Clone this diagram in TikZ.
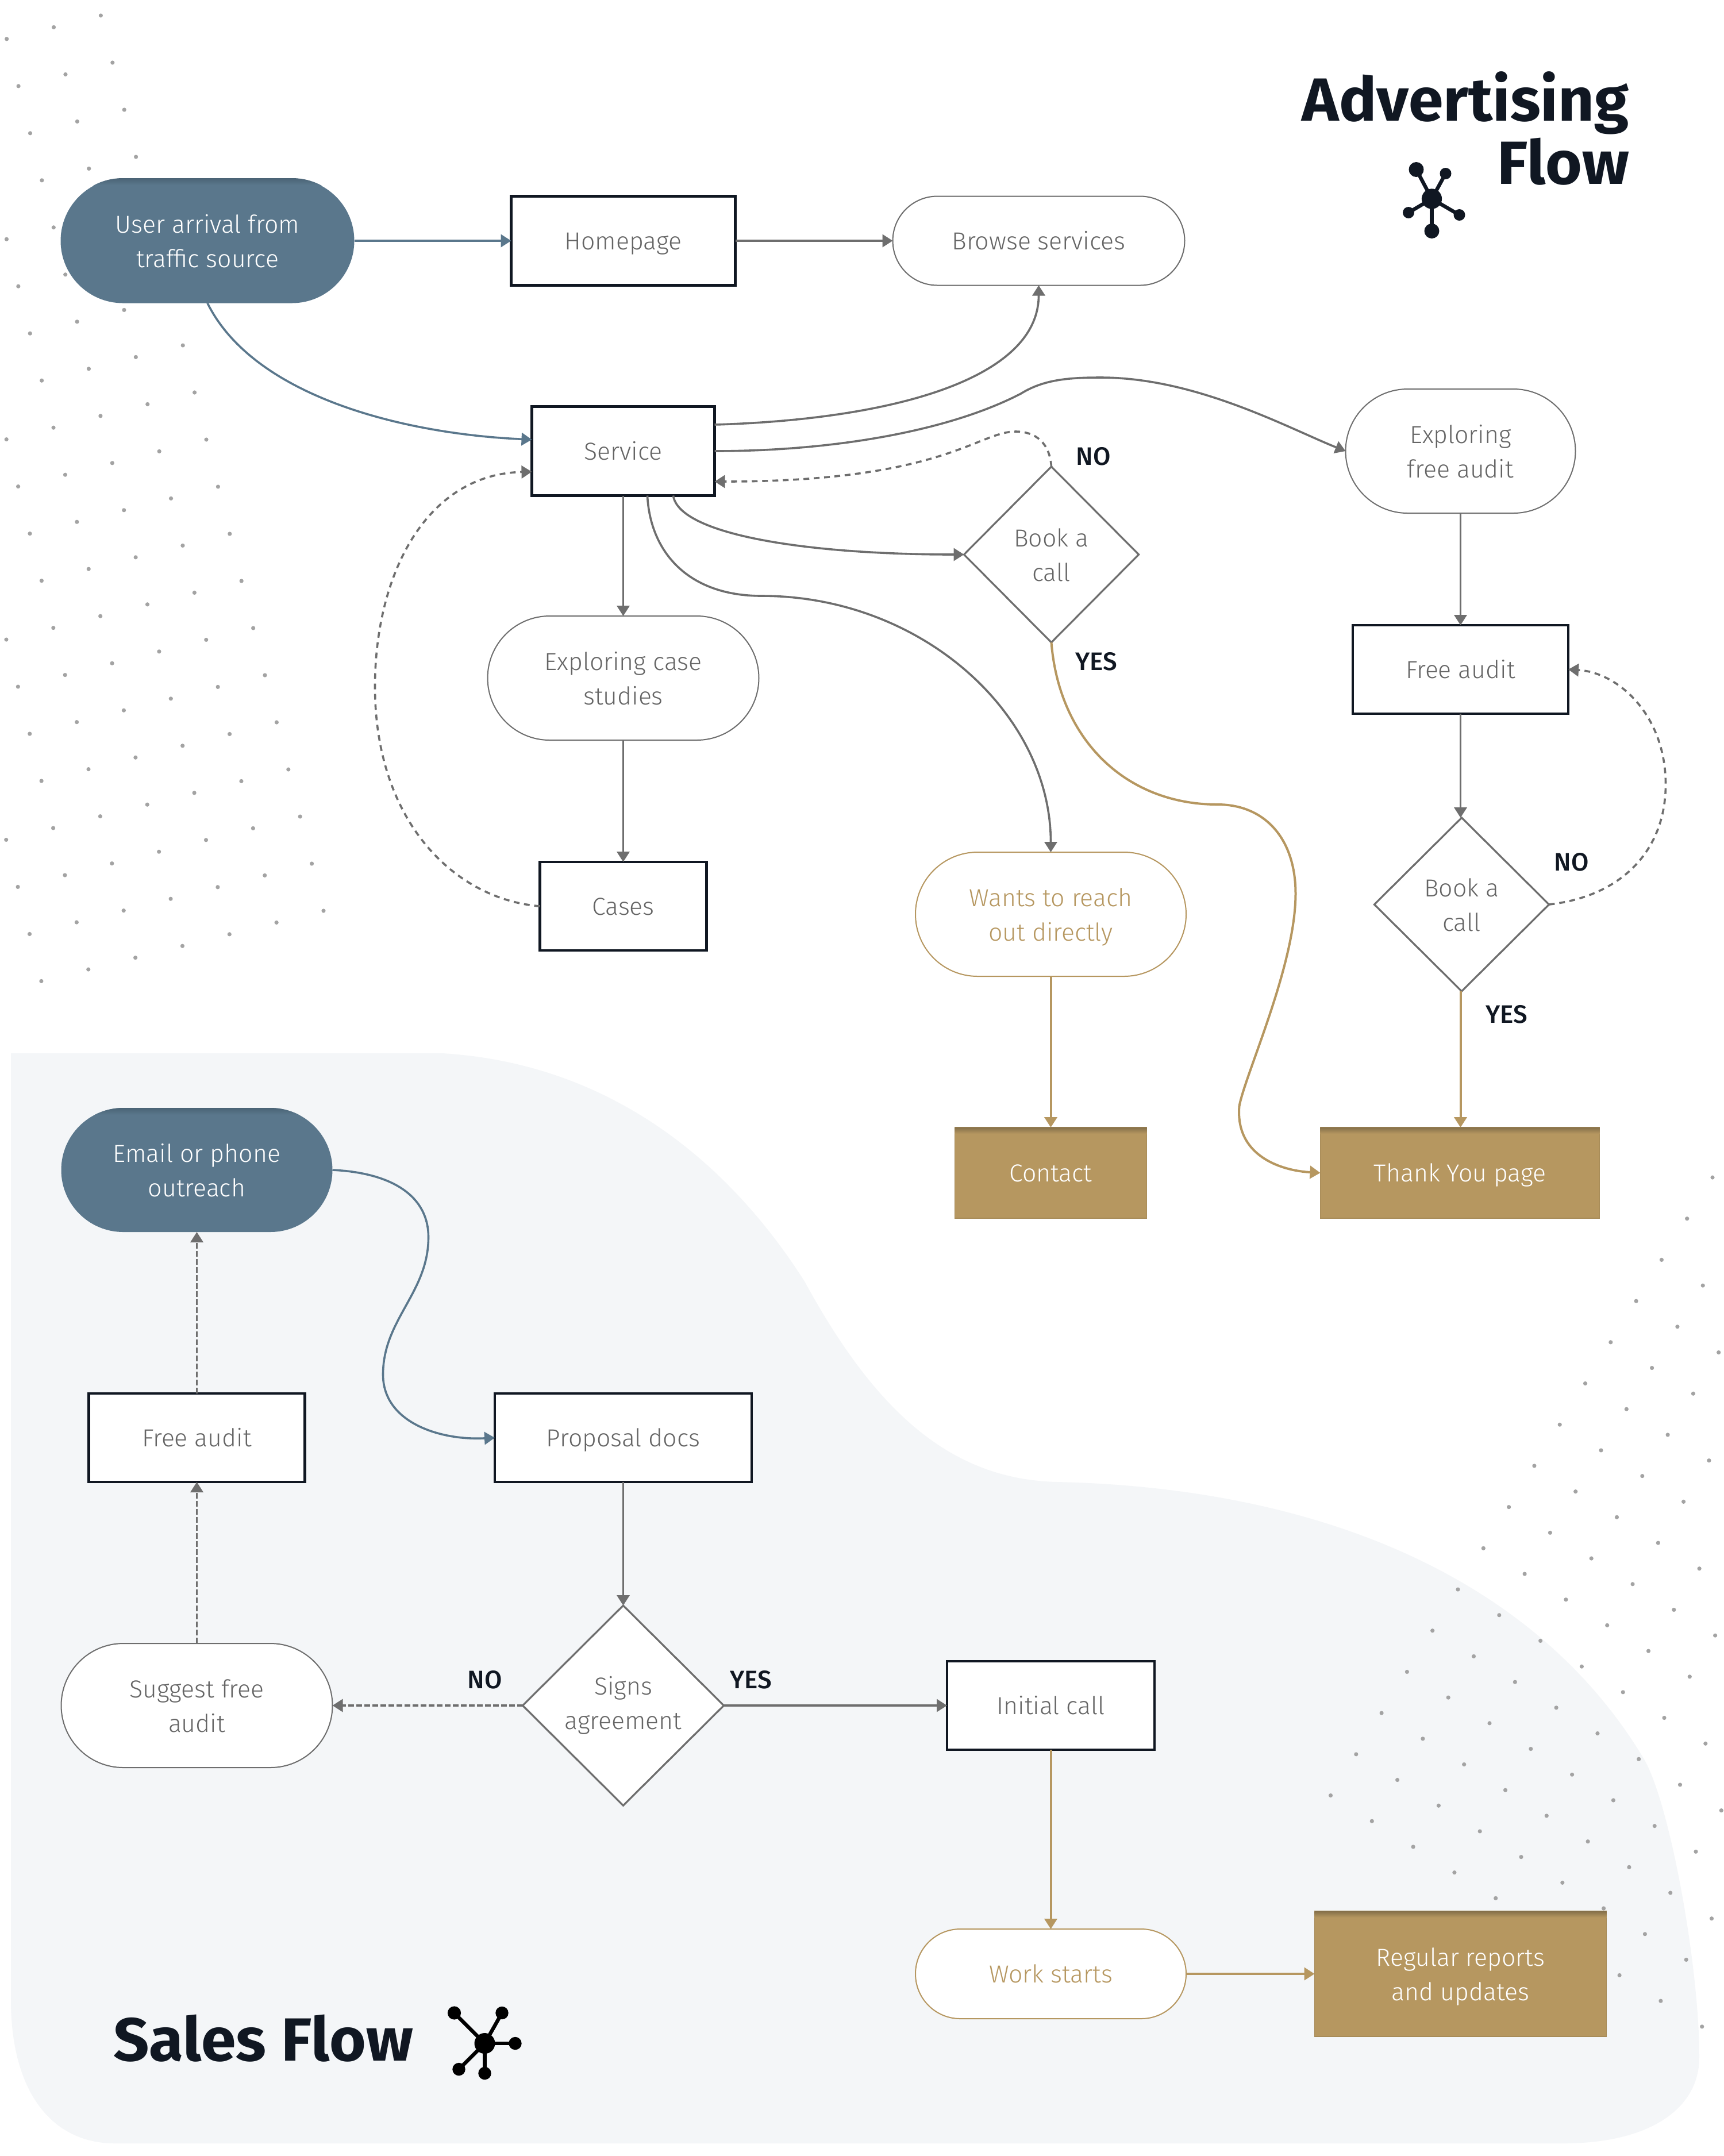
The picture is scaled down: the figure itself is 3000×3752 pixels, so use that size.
\documentclass[tikz,border=0pt]{standalone}
\usepackage{fontspec}
\setmainfont{Fira Sans Light}
\newfontfamily\labelfont{Fira Sans Medium}
\newfontfamily\titlefont{Fira Sans Bold}[FakeStretch=1.03]
\usetikzlibrary{shapes.geometric,shapes.misc,arrows.meta}
\newcommand{\firstl}{\rule{0pt}{10.4pt}}
\definecolor{ink}{HTML}{101722}
\definecolor{greyline}{HTML}{6E6E6E}
\definecolor{greytext}{HTML}{656565}
\definecolor{goldc}{HTML}{B69760}
\definecolor{goldd}{HTML}{85704A}
\definecolor{bluec}{HTML}{5A778C}
\definecolor{blued}{HTML}{4A6375}
\definecolor{blobc}{HTML}{F4F6F8}
\definecolor{dotc}{HTML}{A3A3A3}
\tikzset{
  x=0.25pt,y=-0.25pt,
  sized/.style 2 args={minimum width=#1*0.25pt,minimum height=#2*0.25pt},
  base/.style={inner sep=0pt,outer sep=0pt,align=center,text=greytext,font=\fontsize{10.7}{15}\selectfont,
    execute at begin node=\rule{0pt}{9.8pt},execute at end node=\vphantom{p}},
  rectbox/.style={base,rectangle,draw=ink,line width=1.1pt,fill=white},
  pillbox/.style={base,rounded rectangle,draw=greyline,line width=0.5pt,fill=white},
  goldpill/.style={pillbox,draw=goldc,text=goldc},
  bluepill/.style={base,rounded rectangle,fill=bluec,text=white},
  goldbox/.style={base,rectangle,fill=goldc,draw=goldc!92!black,line width=0.3pt,text=white},
  decision/.style={base,diamond,shape aspect=1,draw=greyline,line width=0.8pt,fill=white},
  yesno/.style={inner sep=0pt,text=ink,font=\labelfont\fontsize{11}{12}\selectfont},
  titletext/.style={inner sep=0pt,text=ink,font=\titlefont\fontsize{26.5}{30}\selectfont},
  tip/.style={-{Triangle[length=4.5pt,width=5.5pt]}},
  gline/.style={tip,draw=greyline,line width=0.9pt},
  gdash/.style={gline,dash pattern=on 2.5pt off 2pt},
  bline/.style={tip,draw=bluec,line width=0.9pt},
  yline/.style={tip,draw=goldc,line width=1pt},
  spoke/.style={line width=1.6pt},
}
\begin{document}
\begin{tikzpicture}
\useasboundingbox (0,0) rectangle (3000,3752);
\fill[white] (0,0) rectangle (3000,3752);
% background blob
\fill[blobc] (19,1833) -- (770,1833)
  .. controls (1050,1850) and (1260,2010) .. (1400,2230)
  .. controls (1520,2450) and (1650,2575) .. (1840,2579)
  .. controls (2320,2590) and (2680,2760) .. (2860,3060)
  .. controls (2905,3135) and (2957,3420) .. (2957,3580)
  .. controls (2957,3670) and (2870,3730) .. (2720,3730)
  -- (200,3730)
  .. controls (90,3730) and (19,3640) .. (19,3480) -- cycle;
% dot fields
\begin{scope}
\clip (0,0) rectangle (3000,3752);
\foreach \j in {0,...,19}{
  \foreach \i in {0,...,7}{
    \pgfmathsetmacro{\px}{175.4-81.85*\i+20.4*\j}
    \pgfmathsetmacro{\py}{27+20.4*\i+82*\j}
    \pgfmathparse{\px>3?1:0}
    \ifnum\pgfmathresult=1 \fill[dotc] (\px,\py) circle (0.9pt);\fi
  }
}
\foreach \i in {0,...,15}{
  \foreach \j in {0,...,9}{
    \pgfmathsetmacro{\px}{2980-44.3*\i+71.8*\j}
    \pgfmathsetmacro{\py}{2049+71.7*\i+44.7*\j}
    \pgfmathparse{\px<2997?1:0}
    \ifnum\pgfmathresult=1 \fill[dotc] (\px,\py) circle (0.9pt);\fi
  }
}
\end{scope}
\begin{scope}[shift={(1.5,0)}]
% nodes: advertising flow
\node[bluepill,sized={511}{217}] (start) at (359.5,419) {\firstl User arrival from\\traffic source};
\node[rectbox,sized={390}{155}] (home) at (1083,419) {Homepage};
\node[pillbox,sized={508}{155}] (browse) at (1806,419) {Browse services};
\node[rectbox,sized={318}{155}] (service) at (1083,785) {Service};
\node[pillbox,sized={400}{216}] (explfree) at (2540,785) {\firstl Exploring\\free audit};
\node[decision,sized={304}{306}] (book1) at (1828,965) {\firstl Book a\\call};
\node[pillbox,sized={472}{216}] (explcase) at (1083,1180) {\firstl Exploring case\\studies};
\node[rectbox,sized={290}{154}] (cases) at (1083,1577) {Cases};
\node[goldpill,sized={471}{216}] (wants) at (1827,1591) {\firstl Wants to reach\\out directly};
\node[goldbox,sized={334}{158}] (contact) at (1827,2041) {Contact};
\node[goldbox,sized={486}{158}] (thanks) at (2539,2041) {Thank You page};
\node[rectbox,sized={375}{154}] (freetop) at (2540,1165) {Free audit};
\node[decision,sized={304}{302}] (book2) at (2542,1574) {\firstl Book a\\call};
% nodes: sales flow
\node[bluepill,sized={472}{216}] (email) at (341,2036) {\firstl Email or phone\\outreach};
\node[rectbox,sized={376}{154}] (freelow) at (341,2502) {Free audit};
\node[rectbox,sized={447}{154}] (proposal) at (1083,2502) {Proposal docs};
\node[decision,sized={350}{348}] (signs) at (1083,2968) {Signs\\agreement};
\node[pillbox,sized={472}{216}] (suggest) at (341,2968) {\firstl Suggest free\\audit};
\node[rectbox,sized={361}{154}] (initial) at (1827,2968) {Initial call};
\node[goldpill,sized={471}{156}] (work) at (1827,3435) {Work starts};
\node[goldbox,sized={508}{218}] (reports) at (2540,3435) {\firstl Regular reports\\and updates};
% top shading of the filled nodes
\begin{scope}
\clip[rounded corners=27pt] (104,310) rectangle (615,527);
\shade[top color=blued,bottom color=bluec] (104,310) rectangle (615,322);
\end{scope}
\begin{scope}
\clip[rounded corners=27pt] (105,1928) rectangle (577,2144);
\shade[top color=blued,bottom color=bluec] (105,1928) rectangle (577,1940);
\end{scope}
\shade[top color=goldd,bottom color=goldc] (contact.north west) rectangle ++(334,11);
\shade[top color=goldd,bottom color=goldc] (thanks.north west) rectangle ++(486,11);
\shade[top color=goldd,bottom color=goldc] (reports.north west) rectangle ++(508,11);
% connectors
\draw[bline] (start.east) -- (home.west);
\draw[gline] (home.east) -- (browse.west);
\draw[bline] (start.south) .. controls (440,690) and (700,755) .. ([yshift=5pt]service.west);
\draw[gline] ([yshift=11.5pt]service.east) .. controls (1550,730) and (1806,660) .. (browse.south);
\coordinate (kink) at (1775,685);
\coordinate (crest) at (1914,657);
\draw[gline] (service.east) .. controls (1450,785) and (1650,750) .. (kink)
  .. controls (1815,660) and (1860,657) .. (crest)
  .. controls (2080,657) and (2240,745) .. (explfree.west);
\coordinate (hump) at (1766,751);
\draw[gdash] (book1.north) .. controls (1825,770) and (1800,751) .. (hump)
  .. controls (1700,751) and (1640,838) .. ([yshift=-13.25pt]service.east);
\draw[gline] ([xshift=21.75pt]service.south) .. controls (1180,930) and (1400,965) .. (book1.west);
\coordinate (bend) at (1324,1037);
\draw[gline] ([xshift=10.5pt]service.south) .. controls (1130,960) and (1195,1037) .. (bend)
  .. controls (1600,1037) and (1827,1240) .. (wants.north);
\draw[gline] (service.south) -- (explcase.north);
\draw[gline] (explcase.south) -- (cases.north);
\coordinate (leftmost) at (651,1195);
\draw[gdash] (cases.west) .. controls (790,1565) and (651,1430) .. (leftmost)
  .. controls (651,1000) and (740,825) .. ([yshift=-9pt]service.west);
\draw[yline] (wants.south) -- (contact.north);
\coordinate (ya) at (2117,1400);
\coordinate (yb) at (2253,1555);
\coordinate (yc) at (2155,1925);
\draw[yline] (book1.south) .. controls (1842,1290) and (1960,1400) .. (ya)
  .. controls (2200,1400) and (2253,1460) .. (yb)
  .. controls (2253,1680) and (2165,1870) .. (yc)
  .. controls (2148,2010) and (2225,2037) .. (thanks.west);
\draw[gline] (explfree.south) -- (freetop.north);
\draw[gline] (freetop.south) -- (book2.north -| freetop.south);
\coordinate (rightmost) at (2897,1365);
\draw[gdash] (book2.east) .. controls (2820,1560) and (2897,1480) .. (rightmost)
  .. controls (2897,1245) and (2815,1170) .. (freetop.east);
\draw[yline] (book2.south -| explfree.south) -- (thanks.north -| explfree.south);
\coordinate (sa) at (744,2153);
\coordinate (sb) at (665,2392);
\draw[bline] (email.east) .. controls (682,2041) and (744,2082) .. (sa)
  .. controls (744,2250) and (665,2296) .. (sb)
  .. controls (665,2476) and (765,2507) .. (proposal.west);
\draw[gline,dash pattern=on 2.5pt off 1pt] (freelow.north) -- (email.south);
\draw[gline,dash pattern=on 2.5pt off 1pt] (suggest.north) -- (freelow.south);
\draw[gline,dash pattern=on 2.5pt off 1pt] (signs.west) -- (suggest.east);
\draw[gline] (proposal.south) -- (signs.north);
\draw[gline] (signs.east) -- (initial.west);
\draw[yline] (initial.south) -- (work.north);
\draw[yline] (work.east) -- (reports.west);
% labels
\node[yesno] (no1) at (1901,794) {NO};
\node[yesno] (yes1) at (1906,1151) {YES};
\node[yesno] (no2) at (2733,1500) {NO};
\node[yesno] (yes2) at (2620,1765) {YES};
\node[yesno] (no3) at (842,2923) {NO};
\node[yesno] (yes3) at (1305,2923) {YES};
% titles
\node[titletext,anchor=base east] (adv) at (2834,210) {Advertising};
\node[titletext,anchor=base east] (flow) at (2834,320) {Flow};
\node[titletext,anchor=base west] (sales) at (195,3586) {Sales Flow};
% icons
\begin{scope}[ink,fill=ink,draw=ink]
\coordinate (ic) at (2490,346);
\foreach \xx/\yy/\r in {2463/295/3.25,2514/302/2.5,2449.5/370/2.5,2538/374/2.5,2490/402/3.25}{
  \draw[spoke] (ic) -- (\xx,\yy);
  \fill (\xx,\yy) circle (\r pt);
}
\fill (ic) circle (4.4pt);
\end{scope}
\begin{scope}[black,fill=black,draw=black]
\coordinate (id) at (842,3556);
\foreach \xx/\yy/\r in {789/3503/2.9,872/3503/2.8,895/3556/2.8,797/3601/2.8,842/3608/2.8}{
  \draw[spoke] (id) -- (\xx,\yy);
  \fill (\xx,\yy) circle (\r pt);
}
\fill (id) circle (4.5pt);
\end{scope}
\end{scope}
\end{tikzpicture}
\end{document}
